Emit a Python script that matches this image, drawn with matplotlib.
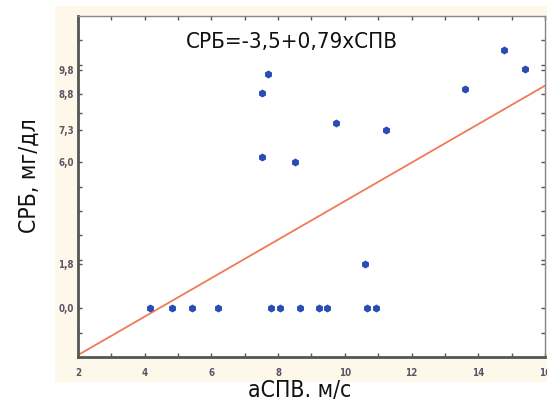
import matplotlib.pyplot as plt
from matplotlib.patches import Rectangle

# data
spv = [4.17, 4.81, 5.42, 6.19, 7.78, 8.05, 8.66, 9.24, 9.47, 10.67, 10.92,
       10.6, 7.53, 7.53, 7.71, 8.51, 9.72, 11.24, 13.6, 14.78, 15.39]
crp = [0.0, 0.0, 0.0, 0.0, 0.0, 0.0, 0.0, 0.0, 0.0, 0.0, 0.0,
       1.8, 6.2, 8.82, 9.6, 6.02, 7.61, 7.3, 9.02, 10.61, 9.81]

# regression
b0 = -3.5
b1 = 0.79
x_line = [2, 16]

ytick_vals = [0.0, 1.8, 6.0, 7.3, 8.8, 9.8]
ytick_labels = ['0,0', '1,8', '6,0', '7,3', '8,8', '9,8']
xtick_vals = [2, 4, 6, 8, 10, 12, 14, 16]

plt.rcParams['font.family'] = ['DejaVu Sans']
plt.rcParams['font.stretch'] = 'condensed'

fig = plt.figure(figsize=(5.47, 4.03), dpi=100)
fig.patches.append(Rectangle((0.1005, 0.052), 0.9, 0.933, transform=fig.transFigure,
                             facecolor='#fdf8ea', edgecolor='none', zorder=-5))

ax = fig.add_axes([0.1426, 0.1141, 0.8537, 0.8462])
ax.set_facecolor('white')

ax.plot(x_line, [b0 + b1 * x for x in x_line], color='#f07a55', lw=1.3, zorder=2)
ax.plot(spv, crp, linestyle='none', marker='h', markersize=4.6,
        color='#2a4db5', zorder=3)

ax.set_xlim(2, 16)
ax.set_ylim(-2, 12)

ax.set_xticks(xtick_vals)
ax.set_xticklabels([str(v) for v in xtick_vals])
ax.set_xticks(range(3, 16, 2), minor=True)
ax.set_yticks(ytick_vals)
ax.set_yticklabels(ytick_labels)
ax.set_yticks([-1, 2, 3, 4, 5, 8, 10, 11], minor=True)

ax.tick_params(which='both', direction='in', top=True, right=True,
               length=3, width=1, color='#555555',
               labelsize=7, labelcolor='#5e5466')
for lab in ax.get_xticklabels() + ax.get_yticklabels():
    lab.set_fontweight('bold')
ax.tick_params(axis='x', pad=8)
ax.tick_params(axis='y', pad=3)

for s in ['left', 'bottom']:
    ax.spines[s].set_linewidth(2)
    ax.spines[s].set_color('#555555')
for s in ['top', 'right']:
    ax.spines[s].set_linewidth(1)
    ax.spines[s].set_color('#888888')

ax.text(0.458, 0.924, 'СРБ=-3,5+0,79хСПВ', transform=ax.transAxes,
        ha='center', va='center', fontsize=16, color='#111111')
fig.text(0.548, 0.032, 'аСПВ. м/с', ha='center', va='center',
         fontsize=16.5, color='#111111')
fig.text(0.053, 0.563, 'СРБ, мг/дл', ha='center', va='center', rotation=90,
         fontsize=16.5, color='#111111')

fig.savefig('out.png', dpi=100)
